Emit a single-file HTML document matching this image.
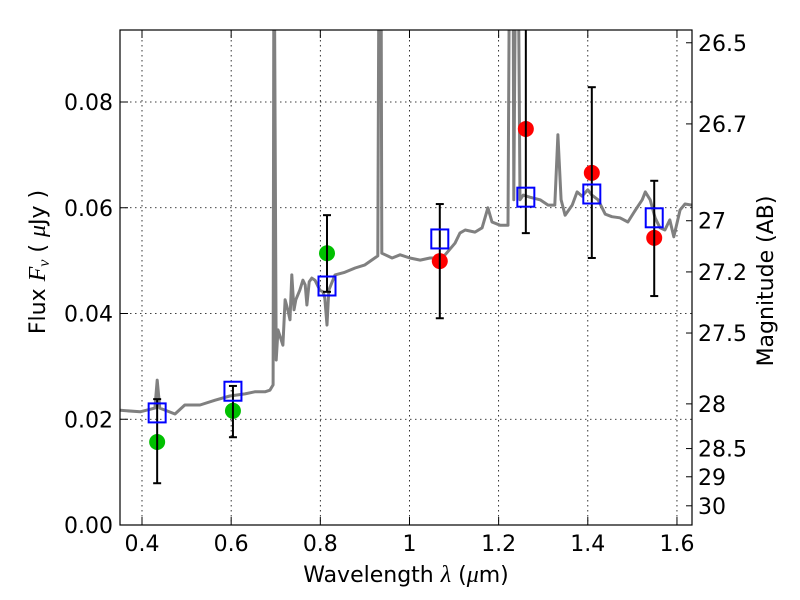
<!DOCTYPE html>
<html><head><meta charset="utf-8"><style>
body{margin:0;background:#fff;}
svg{display:block;font-family:"DejaVu Sans","Liberation Sans",sans-serif;}
</style></head><body>
<svg id="chart" width="800" height="600" viewBox="0 0 800 600">
<defs><clipPath id="clip"><rect x="120" y="30" width="572" height="495"/></clipPath></defs>
<rect width="800" height="600" fill="#fff"/>
<g id="grid"></g>
<g id="spec" clip-path="url(#clip)"></g>
<g id="marks" clip-path="url(#clip)"></g>
<rect x="120" y="30" width="572" height="495" fill="none" stroke="#000" stroke-width="1.2"/>
<g id="axes"></g>
<text x="406" y="582" font-size="22" text-anchor="middle">Wavelength  <tspan font-family="Liberation Serif" font-style="italic" font-size="24">λ</tspan> (<tspan font-family="Liberation Serif" font-style="italic" font-size="24">μ</tspan>m)</text>
<text transform="translate(45,262) rotate(-90)" font-size="22" text-anchor="middle">Flux  <tspan font-family="Liberation Serif" font-style="italic" font-size="24">F<tspan font-size="16" dy="4">ν</tspan></tspan><tspan dy="-4">  (  </tspan><tspan font-family="Liberation Serif" font-style="italic" font-size="24">μ</tspan>Jy )</text>
<text transform="translate(773,281) rotate(-90)" font-size="22" text-anchor="middle">Magnitude (AB)</text>
</svg>
<script>
const specLam=[0.351,0.396,0.429,0.434,0.440,0.474,0.496,0.530,0.564,0.597,0.631,0.653,0.676,0.687,0.694,0.696,0.701,0.705,0.716,0.721,0.727,0.732,0.736,0.741,0.745,0.754,0.761,0.766,0.770,0.775,0.781,0.788,0.799,0.806,0.810,0.815,0.819,0.833,0.855,0.878,0.900,0.929,0.932,0.936,0.938,0.961,0.979,1.001,1.024,1.046,1.068,1.080,1.102,1.113,1.125,1.147,1.163,1.176,1.185,1.203,1.221,1.225,1.232,1.234,1.239,1.243,1.248,1.255,1.270,1.293,1.311,1.326,1.333,1.340,1.349,1.365,1.376,1.387,1.400,1.409,1.423,1.439,1.454,1.472,1.490,1.507,1.522,1.529,1.540,1.551,1.562,1.573,1.584,1.593,1.607,1.618,1.634];
const specFlux=[0.0217,0.0214,0.0221,0.0274,0.0221,0.0210,0.0227,0.0227,0.0236,0.0244,0.0248,0.0252,0.0252,0.0255,0.0265,0.12,0.0312,0.0369,0.0340,0.0426,0.0407,0.0388,0.0473,0.0407,0.0426,0.0444,0.0463,0.0454,0.0416,0.0460,0.0467,0.0463,0.0444,0.0441,0.0429,0.0378,0.0444,0.0473,0.0478,0.0486,0.0492,0.0509,0.12,0.12,0.0514,0.0505,0.0511,0.0505,0.0501,0.0505,0.0505,0.0511,0.0533,0.0552,0.0558,0.0554,0.0562,0.0600,0.0573,0.0567,0.0567,0.12,0.12,0.0615,0.12,0.12,0.0615,0.0624,0.0620,0.0615,0.0605,0.0605,0.0738,0.0615,0.0586,0.0605,0.0630,0.0622,0.0634,0.0624,0.0615,0.0588,0.0583,0.0581,0.0573,0.0596,0.0615,0.0630,0.0615,0.0581,0.0562,0.0558,0.0577,0.0545,0.0596,0.0607,0.0605];
const bandLam=[0.434,0.604,0.815,1.068,1.261,1.409,1.549];
const modelFlux=[0.0212,0.0253,0.0452,0.0541,0.0620,0.0626,0.0581];
const greenLam=[0.434,0.604,0.815];
const greenFlux=[0.0157,0.0216,0.0514];
const redLam=[1.068,1.261,1.409,1.549];
const redFlux=[0.0499,0.0749,0.0666,0.0543];
const errLo=[0.0079,0.0166,0.0441,0.0391,0.0552,0.0505,0.0433];
const errHi=[0.0238,0.0263,0.0586,0.0607,0.12,0.0828,0.0651];
const xTicks=[0.4,0.6,0.8,1.0,1.2,1.4,1.6];
const xTickLabels=["0.4","0.6","0.8","1","1.2","1.4","1.6"];
const yTicks=[0,0.02,0.04,0.06,0.08];
const yTickLabels=["0.00","0.02","0.04","0.06","0.08"];
const magTicks=[26.5,26.7,27,27.2,27.5,28,28.5,29,30];
const magTickLabels=["26.5","26.7","27","27.2","27.5","28","28.5","29","30"];

const NS="http://www.w3.org/2000/svg";
const xS=v=>142+(v-0.4)*445.8;
const yS=v=>525-v*5287.5;
function mk(tag,attrs,parent){const e=document.createElementNS(NS,tag);for(const k in attrs)e.setAttribute(k,attrs[k]);parent.appendChild(e);return e;}
const grid=document.getElementById('grid'),axes=document.getElementById('axes'),spec=document.getElementById('spec'),marks=document.getElementById('marks');
xTicks.forEach((t,i)=>{const x=xS(t);
 const g=mk('line',{x1:x,x2:x,y1:30,y2:525,stroke:'#000','stroke-width':0.8,'stroke-dasharray':'1.5,3.5'},grid);
 
 
 mk('line',{x1:x,x2:x,y1:525,y2:517,stroke:'#000'},axes);
 mk('line',{x1:x,x2:x,y1:30,y2:38,stroke:'#000'},axes);
 const tx=mk('text',{x:x,y:551,'font-size':22,'text-anchor':'middle'},axes);tx.textContent=xTickLabels[i];
 
 
});
yTicks.forEach((t,i)=>{const y=yS(t);
 const g=mk('line',{x1:120,x2:692,y1:y,y2:y,stroke:'#000','stroke-width':0.8,'stroke-dasharray':'1.5,3.5'},grid);
 
 
 mk('line',{x1:120,x2:128,y1:y,y2:y,stroke:'#000'},axes);
 const tx=mk('text',{x:113,y:y+8,'font-size':22,'text-anchor':'end'},axes);tx.textContent=yTickLabels[i];
 
 
});
magTicks.forEach((m,i)=>{const y=yS(Math.pow(10,(23.9-m)/2.5));
 mk('line',{x1:692,x2:686,y1:y,y2:y,stroke:'#000'},axes);
 const tx=mk('text',{x:698,y:y+8,'font-size':22},axes);tx.textContent=magTickLabels[i];
 
 
});
let d='';specLam.forEach((l,i)=>{d+=(i?'L':'M')+xS(l).toFixed(1)+','+yS(specFlux[i]).toFixed(1);});
const sp=mk('path',{d:d,fill:'none',stroke:'#808080','stroke-width':3,'stroke-linejoin':'round'},spec);


greenLam.forEach((l,i)=>{const c=mk('circle',{cx:xS(l),cy:yS(greenFlux[i]),r:8,fill:'#00c000'},marks);
 
 });
redLam.forEach((l,i)=>{const c=mk('circle',{cx:xS(l),cy:yS(redFlux[i]),r:8,fill:'#ff0000'},marks);
 
 });
bandLam.forEach((l,i)=>{const x=xS(l);
 const g=mk('g',{stroke:'#000','stroke-width':2},marks);
 
 
 mk('line',{x1:x,x2:x,y1:yS(errLo[i]),y2:yS(errHi[i])},g);
 mk('line',{x1:x-4,x2:x+4,y1:yS(errLo[i]),y2:yS(errLo[i])},g);
 mk('line',{x1:x-4,x2:x+4,y1:yS(errHi[i]),y2:yS(errHi[i])},g);
});
bandLam.forEach((l,i)=>{const r=mk('rect',{x:xS(l)-8.5,y:yS(modelFlux[i])-9.5,width:17,height:19,fill:'none',stroke:'#0000ff','stroke-width':2},marks);
 
 });
</script>
</body></html>
